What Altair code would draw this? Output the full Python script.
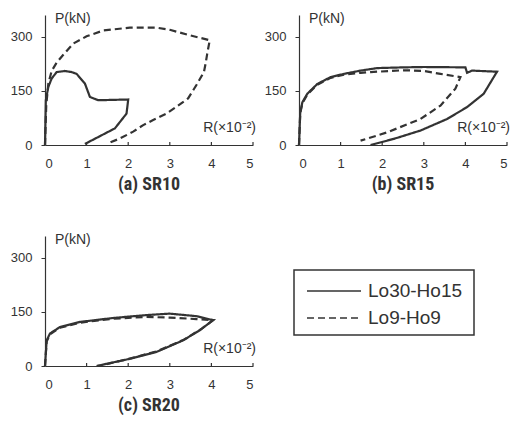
import altair as alt
import pandas as pd

series_names = ["Lo30-Ho15", "Lo9-Ho9"]
x_ticks = [0, 1, 2, 3, 4, 5]
y_ticks = [0, 150, 300]

# (a) SR10
a_solid_R = [0, 0.02, 0.08, 0.16, 0.28, 0.48, 0.64, 0.76, 0.96, 1.08, 1.28, 2.0, 1.96, 1.68, 0.96]
a_solid_P = [0, 124, 161, 184, 202, 205, 202, 197, 170, 133, 124, 126, 87, 46, 3]
a_dash_R = [0, 0.03, 0.08, 0.16, 0.28, 0.44, 0.68, 1.0, 1.4, 2.04, 2.68, 3.0, 3.48, 3.96,
            3.9, 3.86, 3.82, 3.64, 3.44, 3.16, 2.92, 2.6, 2.36, 2.12, 1.8, 1.52]
a_dash_P = [0, 110, 170, 205, 228, 250, 281, 301, 317, 325, 325, 319, 304, 290,
            253, 225, 202, 166, 129, 106, 87, 69, 55, 37, 18, 5]

# (b) SR15
b_solid_R = [0, 0.03, 0.08, 0.2, 0.44, 0.76, 1.08, 1.48, 1.88, 2.52, 3.0, 4.0, 4.04, 4.16,
             4.76, 4.44, 4.04, 3.56, 2.92, 2.28, 1.72]
b_solid_P = [0, 90, 118, 142, 169, 188, 197, 206, 213, 215, 216, 215, 200, 206,
             203, 142, 105, 72, 40, 17, 0]
b_dash_R = [0, 0.03, 0.08, 0.2, 0.44, 0.76, 1.08, 1.48, 1.72, 2.52, 3.0, 3.4, 3.88,
            3.76, 3.4, 2.92, 2.12, 1.48]
b_dash_P = [0, 88, 115, 140, 167, 186, 195, 200, 202, 207, 205, 197, 188,
            156, 109, 72, 35, 12]

# (c) SR20
c_solid_R = [0, 0.04, 0.12, 0.36, 0.84, 1.64, 2.44, 3.0, 3.64, 4.04, 3.72, 3.32, 2.68, 2.04, 1.24]
c_solid_P = [0, 71, 90, 108, 122, 133, 141, 145, 138, 127, 99, 71, 39, 20, 0]
c_dash_R = [0, 0.04, 0.12, 0.36, 0.84, 1.64, 2.44, 3.0, 3.64, 4.04, 3.74, 3.34, 2.7, 2.06, 1.3]
c_dash_P = [0, 68, 88, 106, 120, 131, 136, 134, 130, 127, 101, 73, 41, 21, 0]

ink = "#333333"
font = "Liberation Sans"
title_font = "Roboto Condensed, DejaVu Sans Condensed, Roboto"
dash_styles = [[1, 0], [7, 4]]


def make_df(sR, sP, dR, dP):
    rows = []
    for i, (r, p) in enumerate(zip(sR, sP)):
        rows.append({"R": r, "P": p, "series": series_names[0], "i": i})
    for i, (r, p) in enumerate(zip(dR, dP)):
        rows.append({"R": r, "P": p, "series": series_names[1], "i": i})
    return pd.DataFrame(rows)


def panel(sR, sP, dR, dP, title):
    df = make_df(sR, sP, dR, dP)
    x = alt.X("R:Q", scale=alt.Scale(domain=[0, 5], nice=False),
              axis=alt.Axis(values=x_ticks, ticks=False, labelPadding=12, title=None,
                            grid=False, labelFontSize=13, labelFont=font,
                            labelColor=ink, domainColor=ink, domainWidth=1.2))
    y = alt.Y("P:Q", scale=alt.Scale(domain=[0, 360], nice=False),
              axis=alt.Axis(values=y_ticks, tickSize=4, labelPadding=9, title=None,
                            grid=False, labelFontSize=13, labelFont=font,
                            labelColor=ink, domainColor=ink, tickColor=ink,
                            domainWidth=1.2))
    lines = alt.Chart(df).mark_line(color=ink, strokeWidth=2.2).encode(
        x=x, y=y, order="i:Q", detail="series:N",
        strokeDash=alt.StrokeDash("series:N",
                                  scale=alt.Scale(domain=series_names, range=dash_styles),
                                  legend=None))
    ticks = alt.Chart(pd.DataFrame({"R": x_ticks[1:]})).mark_rule(color=ink, strokeWidth=1.2).encode(
        x="R:Q", y=alt.datum(0), y2=alt.datum(8))
    ptxt = alt.Chart(pd.DataFrame({"t": ["P(kN)"]})).mark_text(
        align="left", baseline="middle", fontSize=14, font=font, color=ink).encode(
        x=alt.value(10), y=alt.value(4), text="t:N")
    rtxt = alt.Chart(pd.DataFrame({"t": ["R(×10⁻²)"]})).mark_text(
        align="right", baseline="middle", fontSize=14, font=font, color=ink).encode(
        x=alt.value(211), y=alt.value(113), text="t:N")
    return alt.layer(lines, ticks, ptxt, rtxt).properties(
        width=208, height=130,
        title=alt.TitleParams(title, orient="bottom", font=title_font, fontSize=18,
                              fontWeight="bold", offset=6, color=ink))


pa = panel(a_solid_R, a_solid_P, a_dash_R, a_dash_P, "(a) SR10")
pb = panel(b_solid_R, b_solid_P, b_dash_R, b_dash_P, "(b) SR15")
pc = panel(c_solid_R, c_solid_P, c_dash_R, c_dash_P, "(c) SR20")

leg_df = pd.DataFrame({"series": series_names})
leg_layers = []
for name, dash, ypos in zip(series_names, dash_styles, [21, 48]):
    base = alt.Chart(leg_df).transform_filter(alt.datum.series == name)
    leg_layers.append(base.mark_rule(color=ink, strokeWidth=1.6, strokeDash=dash).encode(
        x=alt.value(13), x2=alt.value(67), y=alt.value(ypos)))
    leg_layers.append(base.mark_text(align="left", baseline="middle", fontSize=19,
                                     font=font, color=ink).encode(
        x=alt.value(74), y=alt.value(ypos), text="series:N"))
legend = alt.layer(*leg_layers).properties(
    width=180, height=65, view=alt.ViewBackground(stroke=ink, strokeWidth=1.5))

spacer = alt.Chart(pd.DataFrame({"s": [0]})).mark_point(opacity=0).encode(
    x=alt.value(0), y=alt.value(0)).properties(width=180, height=1)

top = alt.hconcat(pa, pb, spacing=8)
bottom = alt.hconcat(pc, alt.vconcat(spacer, legend, spacing=30), spacing=35)
chart = alt.vconcat(top, bottom, spacing=39).properties(
    padding={"left": 10, "top": 12, "right": 0, "bottom": 0},
    background="white",
).configure_view(stroke=None)

chart.save("out.html", embed_options={"renderer": "svg", "actions": False})
